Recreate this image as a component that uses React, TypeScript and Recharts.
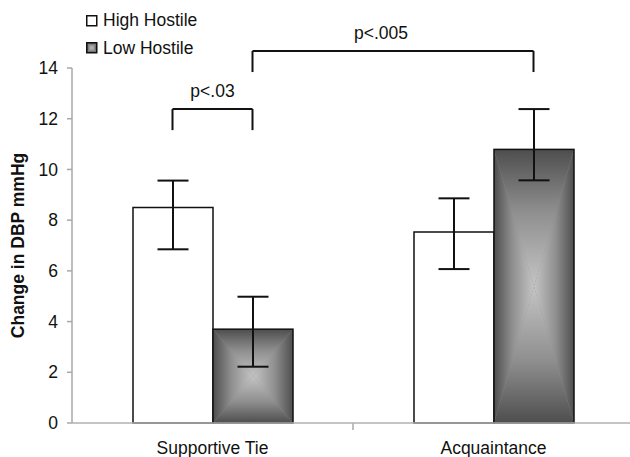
import React from 'react';
import { BarChart, Bar, XAxis, YAxis, ErrorBar, ReferenceLine, Legend, Label } from 'recharts';

// ---------- data ----------
const categories = ['Supportive Tie', 'Acquaintance'];
const seriesNames = ['High Hostile', 'Low Hostile'];
const highMeans = [8.5, 7.53];
const highLower = [6.85, 6.07];
const highUpper = [9.56, 8.86];
const lowMeans = [3.7, 10.79];
const lowLower = [2.22, 9.57];
const lowUpper = [4.98, 12.38];
const yTicks = [0, 2, 4, 6, 8, 10, 12, 14];
// comparisons: [categoryIndex, seriesIndex] endpoints, bracket top and foot levels
const comparisons = [
  { label: 'p<.03', from: [0, 0], to: [0, 1], top: 12.38, foot: 11.55, shift: 0 },
  { label: 'p<.005', from: [0, 1], to: [1, 1], top: 14.67, foot: 13.84, shift: -12 },
];

const data = categories.map((name, i) => ({
  name,
  pos: i + 0.5,
  high: highMeans[i],
  highErr: [highMeans[i] - highLower[i], highUpper[i] - highMeans[i]],
  low: lowMeans[i],
  lowErr: [lowMeans[i] - lowLower[i], lowUpper[i] - lowMeans[i]],
}));

// ---------- layout ----------
const FONT = '"Liberation Sans", Arial, sans-serif';
const FS = 17.5;
const CHART_W = 640;
const CHART_H = 457;
const MARGIN = { top: 68, right: 6, bottom: 0, left: 0 };
const Y_AXIS_W = 72;
const X_AXIS_H = 34;
const BAR_SIZE = 80;
const PLOT_W = CHART_W - MARGIN.left - MARGIN.right - Y_AXIS_W;
const BAND = PLOT_W / categories.length;
const barPos = (c: number, s: number) => c + 0.5 + (s - 0.5) * (BAR_SIZE / BAND);

const EDGE = '#4e4e4e';
const MID = '#8e8e8e';
const CENTER = '#c4c4c4';

const GradDefs = ({ id }: { id: string }) => (
  <defs>
    {[
      ['t', 0, 0, 0, 1],
      ['b', 0, 1, 0, 0],
      ['l', 0, 0, 1, 0],
      ['r', 1, 0, 0, 0],
    ].map(([k, x1, y1, x2, y2]) => (
      <linearGradient key={k as string} id={`${id}-${k}`} x1={x1 as number} y1={y1 as number} x2={x2 as number} y2={y2 as number}>
        <stop offset="0" stopColor={EDGE} />
        <stop offset="0.45" stopColor={MID} />
        <stop offset="1" stopColor={CENTER} />
      </linearGradient>
    ))}
  </defs>
);

const BoxGradient = ({ x, y, width, height, id, strokeWidth = 1.5 }: any) => {
  if (width == null || height == null || height <= 0) return null;
  const cx = x + width / 2;
  const cy = y + height / 2;
  const x2 = x + width;
  const y2 = y + height;
  return (
    <g>
      <GradDefs id={id} />
      <rect x={x} y={y} width={width} height={height} fill={MID} />
      <polygon points={`${x},${y} ${x2},${y} ${cx},${cy}`} fill={`url(#${id}-t)`} />
      <polygon points={`${x},${y2} ${x2},${y2} ${cx},${cy}`} fill={`url(#${id}-b)`} />
      <polygon points={`${x},${y} ${x},${y2} ${cx},${cy}`} fill={`url(#${id}-l)`} />
      <polygon points={`${x2},${y} ${x2},${y2} ${cx},${cy}`} fill={`url(#${id}-r)`} />
      <rect x={x} y={y} width={width} height={height} fill="none" stroke="#111" strokeWidth={strokeWidth} />
    </g>
  );
};

const LowBarShape = (props: any) => <BoxGradient {...props} id={`lowgrad-${props.index}`} />;

const LegendContent = () => (
  <div style={{ position: 'relative', width: 150, height: 60, fontFamily: FONT, fontSize: FS, color: '#111' }}>
    {seriesNames.map((n, i) => (
      <div key={n} style={{ position: 'absolute', left: 0, top: i * 27.5, height: 22, display: 'flex', alignItems: 'center', whiteSpace: 'nowrap' }}>
        <svg width={12} height={12} style={{ display: 'block' }}>
          {i === 0 ? (
            <rect x={0.75} y={0.75} width={10} height={10} fill="#fff" stroke="#111" strokeWidth={1.5} />
          ) : (
            <BoxGradient x={0.75} y={0.75} width={10} height={10} id="legendgrad" />
          )}
        </svg>
        <span style={{ marginLeft: 5 }}>{n}</span>
      </div>
    ))}
  </div>
);

const YLabel = (props: any) => {
  const vb = props.viewBox || {};
  const x = (vb.x ?? 0) + 18;
  const y = (vb.y ?? 0) + (vb.height ?? 0) / 2;
  return (
    <text
      x={x}
      y={y}
      transform={`rotate(-90, ${x}, ${y})`}
      textAnchor="middle"
      dominantBaseline="central"
      fontFamily={FONT}
      fontSize={FS}
      fontWeight="bold"
      fill="#111"
    >
      Change in DBP mmHg
    </text>
  );
};

export default function App() {
  return (
    <div style={{ position: 'absolute', left: 0, top: 0, width: 630, height: 457, overflow: 'hidden', background: '#fff' }}>
      <BarChart
        width={CHART_W}
        height={CHART_H}
        data={data}
        margin={MARGIN}
        barGap={0}
        barSize={BAR_SIZE}
      >
        <XAxis
          dataKey="name"
          height={X_AXIS_H}
          tickLine={false}
          tickSize={6}
          tickMargin={12.6}
          axisLine={{ stroke: '#b0b0b0', strokeWidth: 1.5 }}
          tick={{ fill: '#111', fontSize: FS, fontFamily: FONT }}
        />
        <XAxis
          xAxisId="pos"
          dataKey="pos"
          type="number"
          scale="linear"
          domain={[0, categories.length]}
          allowDataOverflow
          hide
        />
        <YAxis
          width={Y_AXIS_W}
          domain={[0, 14]}
          ticks={yTicks}
          interval={0}
          tickSize={5}
          tickMargin={9}
          axisLine={{ stroke: '#a8a8a8', strokeWidth: 1.5 }}
          tickLine={{ stroke: '#a8a8a8', strokeWidth: 1.5 }}
          tick={{ fill: '#111', fontSize: FS, fontFamily: FONT }}
          label={<Label content={<YLabel />} />}
        />
        <Legend
          layout="horizontal"
          verticalAlign="middle"
          align="center"
          content={<LegendContent />}
          wrapperStyle={{ position: 'absolute', left: 86, top: 9.5, width: 150, height: 60 }}
        />
        <Bar dataKey="high" name={seriesNames[0]} fill="#fff" stroke="#111" strokeWidth={1.5} isAnimationActive={false}>
          <ErrorBar dataKey="highErr" width={15.5} stroke="#111" strokeWidth={2} direction="y" />
        </Bar>
        <Bar dataKey="low" name={seriesNames[1]} shape={<LowBarShape />} isAnimationActive={false}>
          <ErrorBar dataKey="lowErr" width={15.5} stroke="#111" strokeWidth={2} direction="y" />
        </Bar>
        {/* category divider tick on x axis */}
        <ReferenceLine
          xAxisId="pos"
          segment={[{ x: 1, y: 0 }, { x: 1, y: -0.28 }]}
          stroke="#a8a8a8"
          strokeWidth={1.5}
          ifOverflow="visible"
        />
        {comparisons.flatMap((cmp, k) => {
          const xa = barPos(cmp.from[0], cmp.from[1]);
          const xb = barPos(cmp.to[0], cmp.to[1]);
          const common = { xAxisId: 'pos', stroke: '#111', strokeWidth: 2, ifOverflow: 'visible' as const };
          return [
            <ReferenceLine key={`l${k}`} {...common} segment={[{ x: xa, y: cmp.foot }, { x: xa, y: cmp.top }]} />,
            <ReferenceLine key={`r${k}`} {...common} segment={[{ x: xb, y: cmp.foot }, { x: xb, y: cmp.top }]} />,
            <ReferenceLine
              key={`t${k}`}
              {...common}
              segment={[{ x: xa, y: cmp.top }, { x: xb, y: cmp.top }]}
              label={{ value: cmp.label, position: 'top', offset: 12.5, dx: cmp.shift, fill: '#111', fontSize: FS, fontFamily: FONT }}
            />,
          ];
        })}
      </BarChart>
    </div>
  );
}
